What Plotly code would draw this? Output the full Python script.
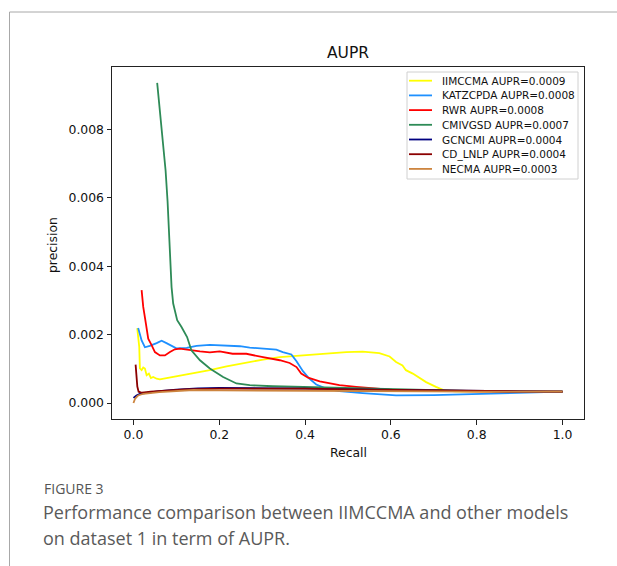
import plotly.graph_objects as go

# ---------------- data ----------------
names = ["IIMCCMA AUPR=0.0009", "KATZCPDA AUPR=0.0008", "RWR AUPR=0.0008",
         "CMIVGSD AUPR=0.0007", "GCNCMI AUPR=0.0004", "CD_LNLP AUPR=0.0004",
         "NECMA AUPR=0.0003"]
colors = ["#FFFF00", "#1E90FF", "#FF0000", "#2E8B57", "#000080", "#8B0000", "#CD853F"]

iimccma_x = [0.0088, 0.0135, 0.015, 0.019, 0.0228, 0.0267, 0.0307, 0.036, 0.0407, 0.046, 0.054,
             0.0616, 0.077, 0.1, 0.139, 0.178, 0.217, 0.248, 0.263, 0.302, 0.341, 0.380, 0.418,
             0.457, 0.496, 0.534, 0.573, 0.597, 0.612, 0.627, 0.635, 0.651, 0.666, 0.682, 0.705,
             0.724, 0.75, 0.8, 0.9, 1.0]
iimccma_y = [0.00219, 0.00164, 0.00101, 0.00096, 0.00104, 0.00101, 0.00081, 0.00086, 0.00073,
             0.00076, 0.00071, 0.00069, 0.00073, 0.00078, 0.00086, 0.00096, 0.00107, 0.00115,
             0.00118, 0.00127, 0.00134, 0.00138, 0.00142, 0.00146, 0.00149, 0.00150, 0.00146,
             0.00136, 0.00120, 0.00110, 0.00096, 0.00086, 0.00073, 0.00061, 0.00047, 0.00037,
             0.00034, 0.00033, 0.00033, 0.00033]

katz_x = [0.011, 0.019, 0.0267, 0.038, 0.054, 0.0656, 0.077, 0.0888, 0.100, 0.124, 0.147, 0.178,
          0.209, 0.248, 0.271, 0.302, 0.333, 0.348, 0.368, 0.380, 0.395, 0.410, 0.426, 0.449,
          0.480, 0.534, 0.612, 0.70, 0.775, 0.85, 0.929, 1.0]
katz_y = [0.00219, 0.00183, 0.00163, 0.00167, 0.00175, 0.00182, 0.00175, 0.00167, 0.00160,
          0.00161, 0.00167, 0.00170, 0.00168, 0.00166, 0.00162, 0.00159, 0.00156, 0.00149,
          0.00142, 0.00122, 0.00093, 0.00071, 0.00054, 0.00042, 0.00035, 0.00029, 0.000225,
          0.00023, 0.00025, 0.00027, 0.00029, 0.00033]

rwr_x = [0.019, 0.0228, 0.029, 0.0344, 0.0423, 0.050, 0.0616, 0.0733, 0.085, 0.0965, 0.108,
         0.131, 0.155, 0.178, 0.201, 0.231, 0.263, 0.302, 0.341, 0.364, 0.380, 0.391, 0.407,
         0.434, 0.480, 0.519, 0.558, 0.597, 0.635, 0.7, 0.8, 0.9, 1.0]
rwr_y = [0.00330, 0.00281, 0.00232, 0.00188, 0.00169, 0.00149, 0.00139, 0.00139, 0.00149,
         0.00157, 0.00159, 0.00154, 0.00151, 0.00148, 0.00151, 0.00144, 0.00144, 0.00134,
         0.00125, 0.00117, 0.00105, 0.00086, 0.00074, 0.00063, 0.00052, 0.00047, 0.00042,
         0.00039, 0.00037, 0.00035, 0.00034, 0.00033, 0.00033]

cmivgsd_x = [0.0553, 0.068, 0.0749, 0.0795, 0.0849, 0.0888, 0.0926, 0.1019, 0.112, 0.125, 0.135,
             0.155, 0.178, 0.209, 0.240, 0.271, 0.325, 0.387, 0.464, 0.55, 0.65, 0.8, 1.0]
cmivgsd_y = [0.00936, 0.0078, 0.0068, 0.0059, 0.00417, 0.00339, 0.00291, 0.00242, 0.00222,
             0.00193, 0.00154, 0.00125, 0.00101, 0.00076, 0.00057, 0.00052, 0.00049, 0.00047,
             0.00045, 0.00042, 0.00038, 0.00035, 0.00033]

gcncmi_x = [0.0, 0.007, 0.015, 0.03, 0.06, 0.1, 0.15, 0.2, 0.3, 0.4, 0.5, 0.6, 0.7, 0.8, 0.9, 1.0]
gcncmi_y = [0.00015, 0.00022, 0.00027, 0.00030, 0.00035, 0.00039, 0.00043, 0.00044, 0.00044,
            0.00042, 0.00040, 0.00038, 0.00036, 0.00035, 0.00034, 0.00033]

cdlnlp_x = [0.005, 0.007, 0.009, 0.012, 0.02, 0.04, 0.08, 0.12, 0.2, 0.3, 0.4, 0.5, 0.6, 0.7,
            0.8, 0.9, 1.0]
cdlnlp_y = [0.00112, 0.0008, 0.00048, 0.00033, 0.00030, 0.00033, 0.00037, 0.00040, 0.00042,
            0.00043, 0.00042, 0.00040, 0.00038, 0.00036, 0.00035, 0.00034, 0.00033]

necma_x = [0.0, 0.004, 0.011, 0.023, 0.06, 0.1, 0.14, 0.2, 0.3, 0.4, 0.5, 0.6, 0.7, 0.8, 0.9, 1.0]
necma_y = [0.0, 0.00013, 0.00022, 0.00027, 0.00032, 0.00036, 0.00038, 0.00037, 0.00036, 0.00035,
           0.00034, 0.00034, 0.00033, 0.00033, 0.00033, 0.00033]

series_x = [iimccma_x, katz_x, rwr_x, cmivgsd_x, gcncmi_x, cdlnlp_x, necma_x]
series_y = [iimccma_y, katz_y, rwr_y, cmivgsd_y, gcncmi_y, cdlnlp_y, necma_y]

x_ticks = [0.0, 0.2, 0.4, 0.6, 0.8, 1.0]
y_ticks = [0.000, 0.002, 0.004, 0.006, 0.008]

title_text = "AUPR"
x_title = "Recall"
y_title = "precision"
fig_label = "FIGURE 3"
caption_lines = ["Performance comparison between IIMCCMA and other models",
                 "on dataset 1 in term of AUPR."]

# ---------------- layout geometry (pixels) ----------------
FW, FH = 617, 566
L, R, T, B = 112, 584, 67, 419
W, H = R - L, B - T


def px(x):
    return (x - L) / W


def py(y):
    return (B - y) / H


FONT = "DejaVu Sans"
CAP_FONT = "Open Sans"

fig = go.Figure()
for xs, ys, name, col in zip(series_x, series_y, names, colors):
    fig.add_trace(go.Scatter(x=xs, y=ys, mode="lines", name=name,
                             line=dict(color=col, width=1.8), showlegend=False))

shapes = []
annotations = []

# manual legend (matplotlib style)
shapes.append(dict(type="rect", xref="paper", yref="paper",
                   x0=px(407), x1=px(578), y0=py(179), y1=py(72),
                   line=dict(color="#d0d0d0", width=1), fillcolor="rgba(255,255,255,0.8)",
                   layer="above"))
for i, (name, col) in enumerate(zip(names, colors)):
    yy = 80.7 + 14.7 * i
    shapes.append(dict(type="line", xref="paper", yref="paper",
                       x0=px(409), x1=px(432), y0=py(yy), y1=py(yy),
                       line=dict(color=col, width=1.8), layer="above"))
    annotations.append(dict(text=name, xref="paper", yref="paper", x=px(440), y=py(yy),
                            xanchor="left", yanchor="middle", showarrow=False,
                            font=dict(family=FONT, size=10.5, color="#111")))

# page frame (light border on top and left)
shapes.append(dict(type="line", xref="paper", yref="paper",
                   x0=px(9.5), x1=px(FW + 5), y0=py(12), y1=py(12),
                   line=dict(color="#a8a8a8", width=1)))
shapes.append(dict(type="line", xref="paper", yref="paper",
                   x0=px(9.5), x1=px(9.5), y0=py(12), y1=py(FH + 5),
                   line=dict(color="#a8a8a8", width=1)))

# title and axis titles
annotations.append(dict(text=title_text, xref="paper", yref="paper", x=px(348), y=py(53),
                        xanchor="center", yanchor="middle", showarrow=False,
                        font=dict(family=FONT, size=15.5, color="#111")))
annotations.append(dict(text=x_title, xref="paper", yref="paper", x=px(348), y=py(452),
                        xanchor="center", yanchor="middle", showarrow=False,
                        font=dict(family=FONT, size=12.4, color="#111")))
annotations.append(dict(text=y_title, xref="paper", yref="paper", x=px(53), y=py(245),
                        xanchor="center", yanchor="middle", showarrow=False, textangle=-90,
                        font=dict(family=FONT, size=12.4, color="#111")))

# caption
annotations.append(dict(text=fig_label, xref="paper", yref="paper", x=px(42), y=py(488),
                        xanchor="left", yanchor="middle", showarrow=False,
                        font=dict(family=CAP_FONT, size=14, color="#555")))
for j, line in enumerate(caption_lines):
    annotations.append(dict(text=line, xref="paper", yref="paper", x=px(41), y=py(512 + 26 * j),
                            xanchor="left", yanchor="middle", showarrow=False,
                            font=dict(family=CAP_FONT, size=18, color="#5a5a5a")))

axis_common = dict(showline=True, linecolor="#222", linewidth=1, mirror=True,
                   ticks="outside", ticklen=4.5, tickwidth=1, tickcolor="#222",
                   showgrid=False, zeroline=False,
                   tickfont=dict(family=FONT, size=12.4, color="#111"))

fig.update_layout(
    width=FW, height=FH,
    margin=dict(l=L, r=FW - R, t=T, b=FH - B, autoexpand=False),
    paper_bgcolor="white", plot_bgcolor="white",
    xaxis=dict(range=[-0.05, 1.05], tickvals=x_ticks, tickformat=".1f", **axis_common),
    yaxis=dict(range=[-0.000468, 0.009825], tickvals=y_ticks, tickformat=".3f", **axis_common),
    shapes=shapes, annotations=annotations,
    showlegend=False,
)

fig.write_html("out.html")
